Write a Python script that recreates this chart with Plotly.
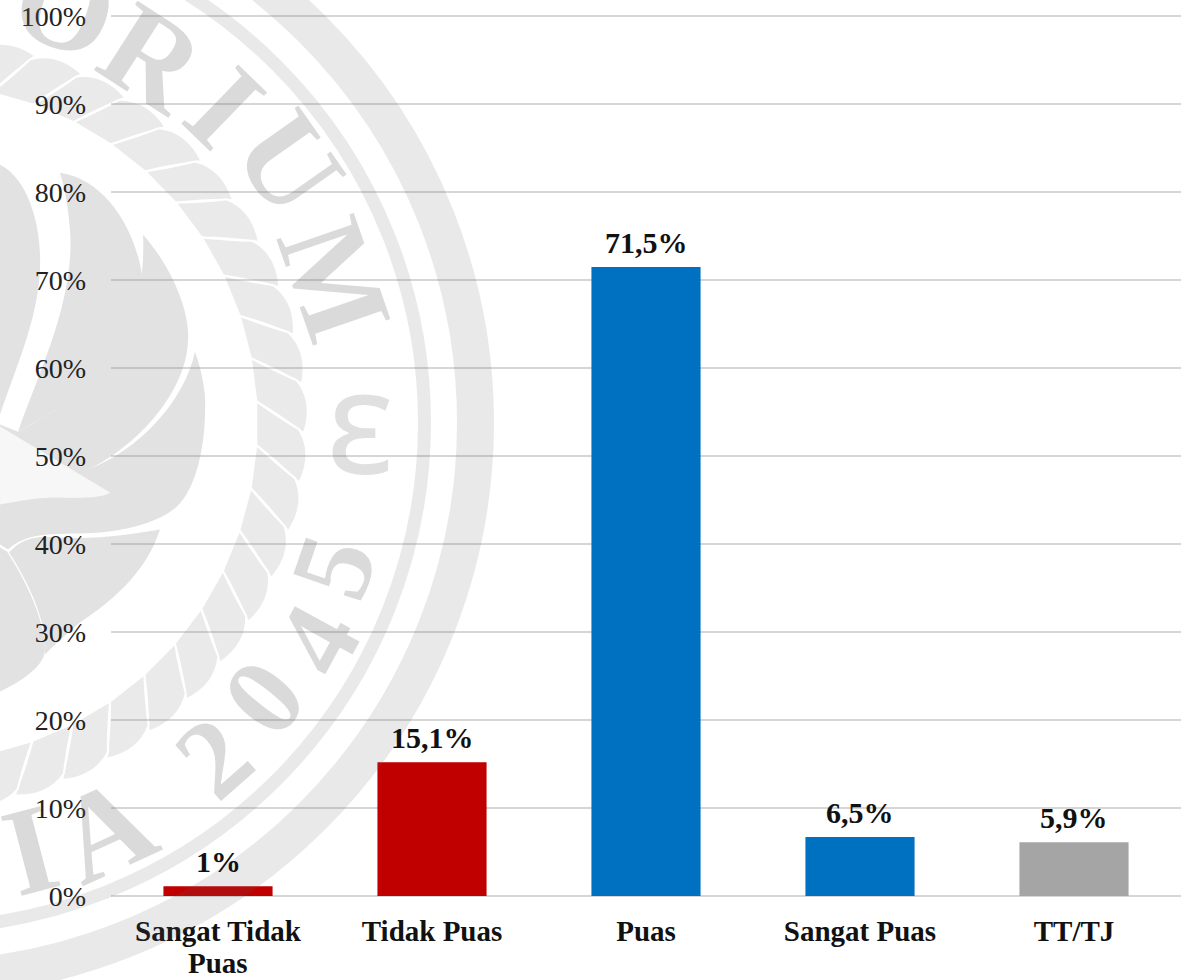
import math
import re
import plotly.graph_objects as go

categories = ["Sangat Tidak Puas", "Tidak Puas", "Puas", "Sangat Puas", "TT/TJ"]
# first label wraps; its second line is placed separately to keep the tight line spacing
x_tick_labels = ["Sangat Tidak", "Tidak Puas", "Puas", "Sangat Puas", "TT/TJ"]
wrapped_line = "Puas"
values = [1.1, 15.2, 71.5, 6.7, 6.1]
value_labels = ["1%", "15,1%", "71,5%", "6,5%", "5,9%"]
bar_colors = ["#C00000", "#C00000", "#0070C0", "#0070C0", "#A5A5A5"]
y_ticks = [0, 10, 20, 30, 40, 50, 60, 70, 80, 90, 100]
y_tick_labels = ["0%", "10%", "20%", "30%", "40%", "50%", "60%", "70%", "80%", "90%", "100%"]

FONT = "Liberation Serif"
W, H = 1186, 980
# range runs a little past 100 so plotly keeps the top gridline
Y_MAX = 100.25
LEFT, RIGHT, TOP, BOTTOM = 111, 1181, 14.3, 896.5

# the seal behind the chart is placed in page pixels
CX, CY = -81, 423


def px_x(x):
    return (x - LEFT) / (RIGHT - LEFT)


def px_y(y):
    return (BOTTOM - y) / (BOTTOM - TOP)


def to_paper(path):
    return re.sub(r"(-?[\d.]+),(-?[\d.]+)",
                  lambda m: f"{px_x(float(m[1])):.4f},{px_y(float(m[2])):.4f}", path)


def polar(r, deg):
    a = math.radians(deg)
    return f"{CX + r * math.sin(a):.1f},{CY - r * math.cos(a):.1f}"


def leaf_path(t):
    return (f"M{polar(338, t)} Q{polar(362, t + 3)} {polar(380, t + 4.6)} "
            f"Q{polar(396, t + 8)} {polar(385, t + 12.6)} "
            f"Q{polar(358, t + 9.5)} {polar(338, t + 7.4)} Z")


blobs = [
    "M60,173 C110,180 140,240 143,285 C145,340 90,395 18,432 C40,370 75,300 70,230 C68,205 65,190 60,173 Z",
    "M0,165 C30,180 42,230 40,270 C38,320 15,370 0,415 Z",
    "M0,425 L18,432 C90,395 148,340 143,235 C170,265 190,310 188,340 C187,390 140,445 88,470 "
    "C140,450 185,400 195,352 C203,375 206,395 205,410 C205,450 195,490 177,507 "
    "C160,522 130,530 100,533 C60,536 30,530 8,550 L0,545 Z",
    "M160,530 C150,560 130,590 80,623 C60,640 50,650 45,655 C48,625 30,585 9,553 "
    "C20,540 35,535 60,538 C100,540 130,535 160,530 Z",
    "M7,552 C25,580 45,620 45,650 C45,665 25,680 0,692 L0,548 Z",
]
bird = "M0,427 L110,493 C105,498 80,499 60,498 C30,498 15,503 0,505 Z"

# letter, page x, page y, size
seal_text = [
    ("O", 65, 6, 125), ("R", 153, 58, 125), ("I", 225, 107, 125), ("U", 290, 163, 125),
    ("M", 335, 280, 125), ("2", 213, 757, 112), ("0", 263, 697, 112), ("4", 317, 640, 112),
    ("5", 333, 567, 112), ("A", 105, 830, 125), ("I", 30, 850, 125),
]

fig = go.Figure(go.Bar(
    x=categories,
    y=values,
    marker=dict(color=bar_colors, line_width=0),
    width=0.51,
    showlegend=False,
))

shapes = []
for r, w in [(556.5, 37), (505.5, 13)]:
    shapes.append(dict(type="circle", xref="paper", yref="paper", layer="above",
                       x0=px_x(CX - r), x1=px_x(CX + r), y0=px_y(CY + r), y1=px_y(CY - r),
                       line=dict(color="rgba(100,100,100,0.14)", width=w)))
t = 5
while t < 172:
    shapes.append(dict(type="path", xref="paper", yref="paper", layer="below",
                       path=to_paper(leaf_path(t)), fillcolor="#EAEAEA",
                       line=dict(color="white", width=2)))
    t += 7.4
for b in blobs:
    shapes.append(dict(type="path", xref="paper", yref="paper", layer="below",
                       path=to_paper(b), fillcolor="#E2E2E2", line_width=0))
shapes.append(dict(type="path", xref="paper", yref="paper", layer="below",
                   path=to_paper(bird), fillcolor="#F7F7F7", line_width=0))

annotations = []
for ch, x, y, size in seal_text:
    dx, dy = x - CX, y - CY
    rot = math.degrees(math.atan2(dx, -dy)) if dy < 0 else -math.degrees(math.atan2(dx, dy))
    annotations.append(dict(text=ch, x=px_x(x), y=px_y(y), xref="paper", yref="paper",
                            xanchor="center", yanchor="middle", showarrow=False, textangle=rot,
                            font=dict(family=FONT, size=size, weight="bold",
                                      color="rgba(100,100,100,0.24)")))
annotations.append(dict(text="ε", x=px_x(360), y=px_y(418), xref="paper", yref="paper",
                        xanchor="center", yanchor="middle", showarrow=False,
                        font=dict(family="Noto Sans", size=145,
                                  color="rgba(100,100,100,0.2)")))
# value labels sit above each bar
for cat, val, lab in zip(categories, values, value_labels):
    annotations.append(dict(text=lab, x=cat, y=val, xref="x", yref="y",
                            xanchor="center", yanchor="bottom", showarrow=False, yshift=6,
                            font=dict(family=FONT, size=30, color="#111111", weight="bold")))
annotations.append(dict(text=wrapped_line, x=categories[0], y=px_y(964), xref="x", yref="paper",
                        xanchor="center", yanchor="middle", showarrow=False,
                        font=dict(family=FONT, size=29, color="#111111", weight="bold")))

fig.update_layout(
    width=W, height=H,
    margin=dict(l=LEFT, r=W - RIGHT, t=TOP, b=H - BOTTOM, pad=0),
    paper_bgcolor="white",
    plot_bgcolor="rgba(0,0,0,0)",
    shapes=shapes,
    annotations=annotations,
    bargap=0.49,
)
fig.update_xaxes(
    automargin=False,
    tickmode="array", tickvals=categories, ticktext=x_tick_labels,
    showgrid=False, showline=False, zeroline=False, ticks="", ticklabelstandoff=15,
    tickfont=dict(family=FONT, size=29, color="#111111", weight="bold"),
    tickangle=0,
)
fig.update_yaxes(
    automargin=False,
    range=[0, Y_MAX], tickvals=y_ticks, ticktext=y_tick_labels, ticks="", ticklabelstandoff=24,
    showgrid=True, gridcolor="rgba(140,140,140,0.36)", gridwidth=1.5,
    zeroline=True, zerolinecolor="rgba(140,140,140,0.36)", zerolinewidth=1.5,
    showline=False,
    tickfont=dict(family=FONT, size=28, color="#222222"),
)

fig.write_html("out.html", config=dict(displayModeBar=False),
               post_script="document.body.style.margin='0';")
